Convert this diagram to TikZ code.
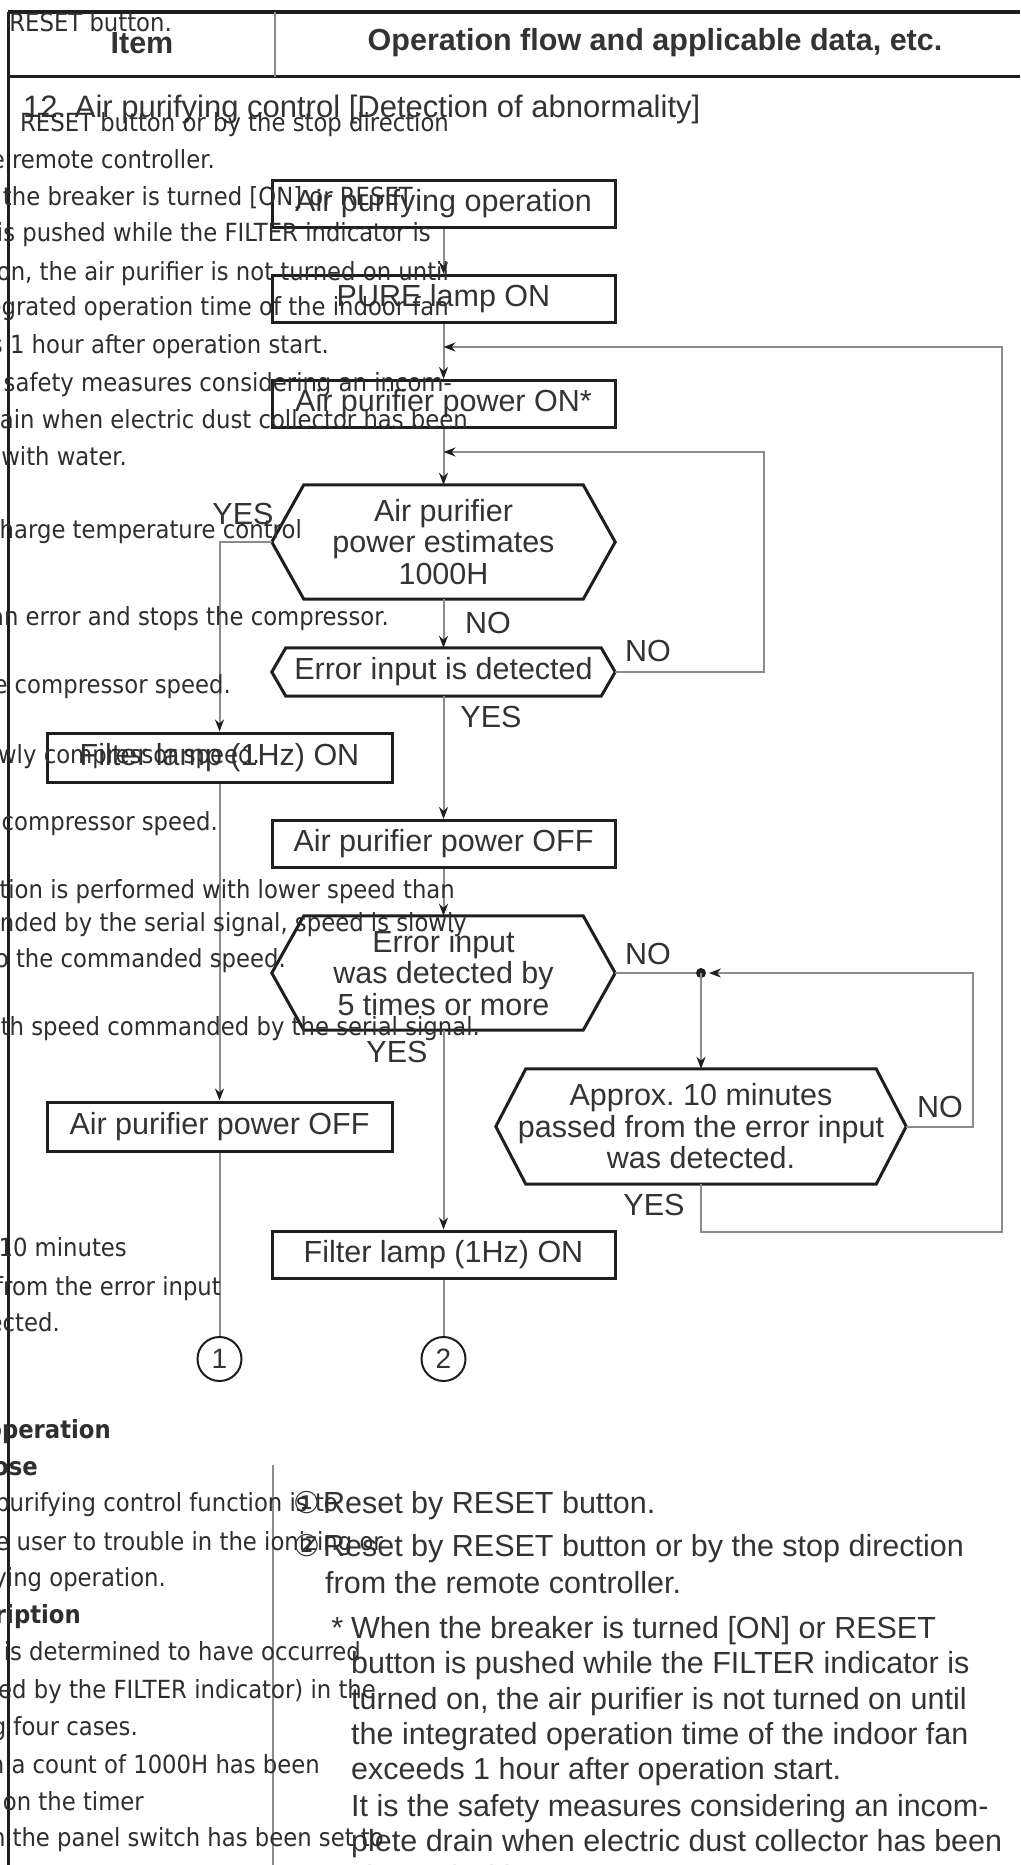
\documentclass[tikz,border=0pt]{standalone}
\usepackage{fontspec}
\usepackage{xcolor}
\setmainfont{Liberation Sans}
\newfontfamily\webfont[FakeStretch=0.91]{DejaVu Sans}
\newfontfamily\symfont{DejaVu Sans}
\usetikzlibrary{calc,positioning,arrows.meta}
\frenchspacing

\definecolor{ink}{HTML}{333333}
\definecolor{webink}{HTML}{2E2E2E}
\definecolor{edgeblack}{HTML}{1E1E1E}
\definecolor{wire}{HTML}{8C8C8C}

\newcommand{\flowfont}{\fontsize{30.5}{31.5}\selectfont}
\newcommand{\headfont}{\bfseries\fontsize{30.5}{36}\selectfont}
\newcommand{\webtext}{\webfont\fontsize{25}{30}\selectfont}
\newcommand{\circnum}[1]{{\symfont\fontsize{30}{30}\selectfont #1}}
% hexagon outline round a text node: name, indent
\newcommand{\hexframe}[2]{%
  \draw[edgeblack,line width=3pt,line join=miter]
    ($(#1.north west)+(#2,0)$) -- ($(#1.north east)+(-#2,0)$) -- (#1.east)
    -- ($(#1.south east)+(-#2,0)$) -- ($(#1.south west)+(#2,0)$) -- (#1.west) -- cycle;}

\tikzset{
  box/.style={draw=edgeblack,line width=3pt,minimum width=343pt,minimum height=47pt,inner sep=0pt,text=ink,font=\flowfont},
  hexbox/.style={inner sep=0pt,align=center,text=ink,font=\flowfont},
  flow/.style={draw=wire,line width=2pt,-{Stealth[length=12pt,width=9pt,color=edgeblack]}},
  wireline/.style={draw=wire,line width=2pt},
  answer/.style={text=ink,font=\flowfont,inner sep=0pt},
  note/.style={anchor=base west,inner sep=0pt,text=ink,font=\fontsize{30.5}{35.5}\selectfont},
  webline/.style={anchor=base east,inner sep=0pt,text=webink,font=\webtext},
}

\begin{document}
\begin{tikzpicture}[x=1pt,y=-1pt]
    \useasboundingbox (0,0) rectangle (1020,1865);
    \fill[white] (0,0) rectangle (1020,1865);
    \clip (0,0) rectangle (1020,1865);

    %header
    \draw[edgeblack,line width=4pt] (8,12) -- (1020,12);
    \draw[edgeblack,line width=3pt] (8,77) -- (1020,77);
    \draw[edgeblack,line width=3pt] (8,12) -- (8,1865);
    \draw[wire,line width=2pt] (275,12) -- (275,77);
    \node[text=ink,font=\headfont] (item) at (142,43) {Item};
    \node[text=ink,font=\headfont] (flowhead) at (655,43) {Operation flow and applicable data, etc.};
    \node[anchor=west,inner sep=0pt,text=ink,font=\fontsize{31}{36}\selectfont] (title) at (23,109) {12. Air purifying control [Detection of abnormality]};

    %main column
    \node[box] (purify) at (443.5,203.5) {Air purifying operation};
    \node[box] (pure) at (443.5,299) {PURE lamp ON};
    \node[box] (poweron) at (443.5,404) {Air purifier power ON*};
    \node[hexbox,minimum width=343pt,minimum height=114pt] (estimate) at (443.5,542) {Air purifier\\power estimates\\1000H};
    \node[hexbox,minimum width=343pt,minimum height=48pt] (errin) at (443.5,672) {Error input is detected};
    \node[box] (offmid) at (443.5,844) {Air purifier power OFF};
    \node[hexbox,minimum width=343pt,minimum height=114pt] (fivetimes) at (443.5,973) {Error input\\was detected by\\5 times or more};
    \node[box] (lampmid) at (443.5,1254.5) {Filter lamp (1Hz) ON};

    %left column
    \node[box,minimum width=345pt,minimum height=49pt] (lampleft) at (219.5,757.5) {Filter lamp (1Hz) ON};
    \node[box,minimum width=345pt,minimum height=49pt] (offleft) at (219.5,1126.5) {Air purifier power OFF};

    %right column
    \node[hexbox,minimum width=410pt,minimum height=115pt] (tenmin) at (701,1126.5) {Approx. 10 minutes\\passed from the error input\\was detected.};

    \hexframe{estimate}{32}
    \hexframe{errin}{14}
    \hexframe{fivetimes}{32}
    \hexframe{tenmin}{30}

    %exits
    \node[circle,draw=edgeblack,line width=2pt,minimum size=44pt,inner sep=0pt,text=ink,font=\fontsize{28}{28}\selectfont] (exit1) at (219.5,1359) {1};
    \node[circle,draw=edgeblack,line width=2pt,minimum size=44pt,inner sep=0pt,text=ink,font=\fontsize{28}{28}\selectfont] (exit2) at (443.5,1359) {2};

    %joins
    \coordinate (join1) at (443.5,347);
    \coordinate (join2) at (443.5,452);
    \coordinate (dot) at (701,973);
    \coordinate (dotin) at (709,973);
    \coordinate (loopA) at (764,452);
    \coordinate (loopB) at (973,973);
    \coordinate (loopC) at (1002,1232);
    \coordinate (loopD) at (1002,347);

    %connectors
    \draw[flow] (purify.south) -- (pure.north);
    \draw[flow] (pure.south) -- (poweron.north);
    \draw[flow] (poweron.south) -- (estimate.north);
    \draw[flow] (estimate.south) -- (errin.north);
    \draw[flow] (estimate.west) -| (lampleft.north);
    \draw[flow] (errin.east) -| (loopA) -- (join2);
    \draw[flow] (errin.south) -- (offmid.north);
    \draw[flow] (offmid.south) -- (fivetimes.north);
    \draw[flow] (lampleft.south) -- (offleft.north);
    \draw[wireline] (offleft.south) -- (exit1.north);
    \draw[flow] (fivetimes.south) -- (lampmid.north);
    \draw[wireline] (lampmid.south) -- (exit2.north);
    \draw[wireline] (fivetimes.east) -- (dot);
    \fill[edgeblack] (dot) circle (5pt);
    \draw[flow] (dot) -- (tenmin.north);
    \draw[flow] (tenmin.east) -| (loopB) -- (dotin);
    \draw[flow] (tenmin.south) |- (loopC) -- (loopD) -- (join1);

    %answers
    \node[answer] (yes1) at (243,514) {YES};
    \node[answer] (no1) at (488,623) {NO};
    \node[answer] (no2) at (648,651) {NO};
    \node[answer] (yes2) at (491,717) {YES};
    \node[answer] (no3) at (648,954) {NO};
    \node[answer] (yes3) at (397,1052) {YES};
    \node[answer] (no4) at (940,1107) {NO};
    \node[answer] (yes4) at (654,1205) {YES};

    %notes
    \draw[wire,line width=2pt] (273,1465) -- (273,1865);
    \node[note] (note1) at (293,1513) {\circnum{①}\hspace{3pt}Reset by RESET button.};
    \node[note] (note2) at (293,1556) {\circnum{②}\hspace{3pt}Reset by RESET button or by the stop direction};
    \node[note] (note3) at (325,1593) {from the remote controller.};
    \node[note] (note4) at (351,1638) {\llap{*\hspace{8pt}}When the breaker is turned [ON] or RESET};
    \node[note] (note5) at (351,1673) {button is pushed while the FILTER indicator is};
    \node[note] (note6) at (351,1709) {turned on, the air purifier is not turned on until};
    \node[note] (note7) at (351,1744) {the integrated operation time of the indoor fan};
    \node[note] (note8) at (351,1779) {exceeds 1 hour after operation start.};
    \node[note] (note9) at (351,1816) {It is the safety measures considering an incom-};
    \node[note] (note10) at (351,1851) {plete drain when electric dust collector has been};
    \node[note] (note11) at (351,1887) {cleaned with water.};

    %web text lying over the scan
    \node[webline] (web1) at (172,31.5) {RESET button.};
    \node[webline] (web2) at (449,131.5) {RESET button or by the stop direction};
    \node[webline] (web3) at (215,168.5) {the remote controller.};
    \node[webline] (web4) at (413,205.5) {the breaker is turned [ON] or RESET};
    \node[webline] (web5) at (431,241.5) {is pushed while the FILTER indicator is};
    \node[webline] (web6) at (449,280.5) {on, the air purifier is not turned on until};
    \node[webline] (web7) at (449,315.5) {integrated operation time of the indoor fan};
    \node[webline] (web8) at (329,353.5) {s 1 hour after operation start.};
    \node[webline] (web9) at (452,391.5) {the safety measures considering an incom-};
    \node[webline] (web10) at (468,428.5) {drain when electric dust collector has been};
    \node[webline] (web11) at (127,465.5) {d with water.};
    \node[webline] (web12) at (302,538.5) {discharge temperature control};
    \node[webline] (web13) at (389,625.5) {an error and stops the compressor.};
    \node[webline] (web14) at (231,693.5) {the compressor speed.};
    \node[webline] (web15) at (260,763.5) {slowly compressor speed.};
    \node[webline] (web16) at (218,830.5) {the compressor speed.};
    \node[webline] (web17) at (455,898.5) {operation is performed with lower speed than};
    \node[webline] (web18) at (467,931.5) {commanded by the serial signal, speed is slowly};
    \node[webline] (web19) at (286,967.5) {up to the commanded speed.};
    \node[webline] (web20) at (480,1035.5) {with speed commanded by the serial signal.};
    \node[webline] (web21) at (127,1256.5) {Approx. 10 minutes};
    \node[webline] (web22) at (221,1295.5) {from the error input};
    \node[webline] (web23) at (60,1331.5) {detected.};
    \node[webline,font=\webtext\bfseries] (web24) at (111,1438.5) {operation};
    \node[webline,font=\webtext\bfseries] (web25) at (38,1475.5) {Purpose};
    \node[webline] (web26) at (338,1511.5) {purifying control function is to};
    \node[webline] (web27) at (383,1550.5) {the user to trouble in the ionizing or};
    \node[webline] (web28) at (166,1586.5) {purifying operation.};
    \node[webline,font=\webtext\bfseries] (web29) at (81,1623.5) {Description};
    \node[webline] (web30) at (361,1660.5) {is determined to have occurred};
    \node[webline] (web31) at (376,1698.5) {(displayed by the FILTER indicator) in the};
    \node[webline] (web32) at (138,1735.5) {following four cases.};
    \node[webline] (web33) at (320,1773.5) {when a count of 1000H has been};
    \node[webline] (web34) at (144,1810.5) {on the timer};
    \node[webline] (web35) at (384,1846.5) {when the panel switch has been set to};
\end{tikzpicture}
\end{document}
